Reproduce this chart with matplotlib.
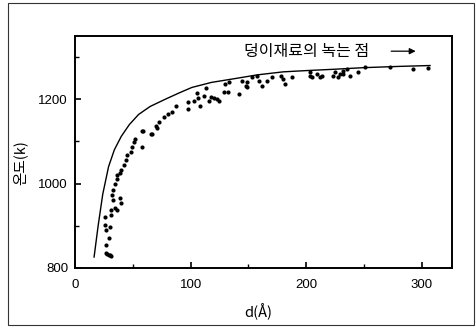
import matplotlib
matplotlib.use("Agg")
import matplotlib.pyplot as plt
from matplotlib.patches import Rectangle

# Theoretical curve
curve_d = [16.5, 20, 24, 29, 34, 40, 47, 55, 65, 78, 90, 101, 118, 136, 158, 180, 200, 223, 250, 281, 307]
curve_T = [826, 900, 975, 1040, 1080, 1112, 1140, 1164, 1183, 1200, 1215, 1228, 1240, 1248, 1258, 1265, 1268, 1271, 1275, 1278, 1280]

pts_d = [27, 28, 29, 30, 31, 27, 29, 27, 26, 30, 26, 31.5, 31, 35, 36, 40, 39, 33, 32, 33, 35, 36, 36, 39, 40,
         42, 44, 45, 48, 49, 51, 52, 58, 59, 66, 70, 58, 67, 71, 73, 77, 80, 84, 87, 98, 98, 103, 106.5,
         105.5, 108, 111.5, 113, 116, 118, 120, 123, 124.5, 129, 132, 130, 133, 142, 144, 148, 149, 153, 157,
         149, 159, 162, 166, 170, 180, 182, 178, 188, 203, 205, 203, 209, 212, 214, 223, 225, 227, 229,
         232, 235, 238, 232, 245, 251, 272, 292, 305]
pts_T = [836, 834, 832, 830, 829, 855, 871, 890, 902, 898, 921, 926, 938, 943, 938, 955, 967, 962, 974, 986, 998,
         1010, 1021, 1026, 1033, 1045, 1057, 1069, 1076, 1088, 1098, 1105, 1088, 1124, 1117, 1136, 1124, 1117,
         1133, 1145, 1157, 1164, 1171, 1183, 1193, 1176, 1195, 1202, 1214, 1183, 1207, 1226, 1195, 1205, 1202,
         1200, 1195, 1217, 1217, 1236, 1240, 1212, 1243, 1231, 1240, 1252, 1255, 1229, 1243, 1231, 1243, 1252,
         1248, 1236, 1255, 1252, 1255, 1252, 1264, 1260, 1252, 1255, 1255, 1264, 1252, 1260, 1267, 1271, 1255,
         1260, 1264, 1276, 1276, 1271, 1274]

x_ticks = [0, 100, 200, 300]
x_ticklabels = ["0", "100", "200", "300"]
y_ticks = [800, 1000, 1200]
y_ticklabels = ["800", "1000", "1200"]

KR = ['Noto Sans CJK KR', 'DejaVu Sans']
NUM = ['Liberation Sans', 'DejaVu Sans']

fig = plt.figure(figsize=(4.76, 3.27), dpi=100)
fig.patch.set_facecolor('white')
# outer scanned border
fig.add_artist(Rectangle((8/476, 2/327), 466/476, 322/327, transform=fig.transFigure,
                         fill=False, edgecolor='#333333', linewidth=0.8))

ax = fig.add_axes([75/476, (327-268)/327, 377/476, 232/327])
ax.plot(curve_d, curve_T, color='black', linewidth=1.0)
ax.scatter(pts_d, pts_T, s=9, color='black', marker='o', linewidths=0)

ax.set_xlim(0, 326)
ax.set_ylim(800, 1350)
ax.set_xticks(x_ticks)
ax.set_xticklabels(x_ticklabels, family=NUM, fontsize=9.5)
ax.set_yticks(y_ticks)
ax.set_yticklabels(y_ticklabels, family=NUM, fontsize=9.5)
ax.set_xticks([50, 150, 250], minor=True)
ax.set_yticks([900, 1100, 1300], minor=True)
ax.tick_params(axis='both', which='major', direction='in', length=4, width=1.2, colors='black')
ax.tick_params(axis='both', which='minor', direction='in', length=3, width=1.0)
ax.tick_params(axis='x', which='major', pad=8)
ax.tick_params(axis='y', which='major', pad=5)
for s in ax.spines.values():
    s.set_linewidth(1.4)
    s.set_color('black')

ax.set_xlabel("d(Å)", family=KR, fontsize=10.5)
ax.xaxis.set_label_coords((258-75)/377, (268-303)/232)
ax.set_ylabel("온도(k)", family=KR, fontsize=10.5)
ax.yaxis.set_label_coords((27-75)/377, (268-163)/232)

ax.text(146, 1314, "덩이재료의 녹는 점", family=KR, fontsize=11.5, va='center', ha='left')
ax.annotate("", xy=(297, 1314), xytext=(271, 1314),
            arrowprops=dict(arrowstyle='-|>', color='black', lw=0.9, mutation_scale=9))

fig.savefig("out.png", dpi=100, facecolor='white')
